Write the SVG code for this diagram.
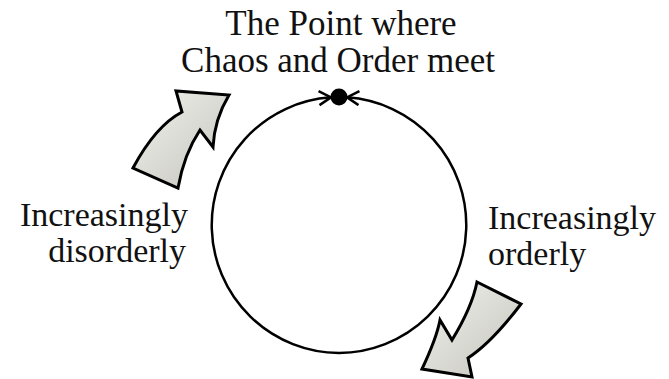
<svg xmlns="http://www.w3.org/2000/svg" width="669" height="379" viewBox="0 0 669 379">
<style>
.t{font-family:"Liberation Serif",serif;font-size:35px;fill:#111}
.s{font-size:34px}
.arc{fill:none;stroke:#000;stroke-width:2.5}
.big{fill:url(#g);stroke:#000;stroke-width:3;stroke-linejoin:miter}
</style>
<defs>
<linearGradient id="g" x1="0" y1="0" x2="1" y2="1">
<stop offset="0" stop-color="#f2f2ee"/>
<stop offset="1" stop-color="#c4c4bc"/>
</linearGradient>
<marker id="chev" markerUnits="userSpaceOnUse" markerWidth="16" markerHeight="18" refX="13" refY="8" orient="auto" viewBox="0 0 16 18">
<path d="M1,1 L13,8 L1,15" fill="none" stroke="#000" stroke-width="2.5"/>
</marker>
</defs>
<rect width="669" height="379" fill="#fff"/>
<g id="connectors">
<path class="arc" d="M339,353 A128,128 0 0 1 331,97.3" marker-end="url(#chev)"/>
<path class="arc" d="M339,353 A128,128 0 0 0 347,97.3" marker-end="url(#chev)"/>
</g>
<g id="meet-point">
<circle cx="339" cy="97" r="8.5" fill="#000"/>
<text class="t" x="341" y="35" text-anchor="middle">The Point where</text>
<text class="t" x="338" y="72" text-anchor="middle">Chaos and Order meet</text>
</g>
<g id="disorderly">
<path class="big" d="M133,168 C148,140 163,122 182,112 L176,91 L229,95 C220,110 214,128 213,147 L200,130 C190,145 182,165 178,188 Z"/>
<text class="t s" x="188" y="226" text-anchor="end">Increasingly</text>
<text class="t s" x="186" y="262" text-anchor="end">disorderly</text>
</g>
<g id="orderly">
<path class="big" d="M477,282 L521,304 C505,325 488,345 468,358 L472,377 L422,369 C430,352 437,336 440,320 L452,340 C463,322 473,302 477,282 Z"/>
<text class="t s" x="488" y="229">Increasingly</text>
<text class="t s" x="488" y="265">orderly</text>
</g>
</svg>
